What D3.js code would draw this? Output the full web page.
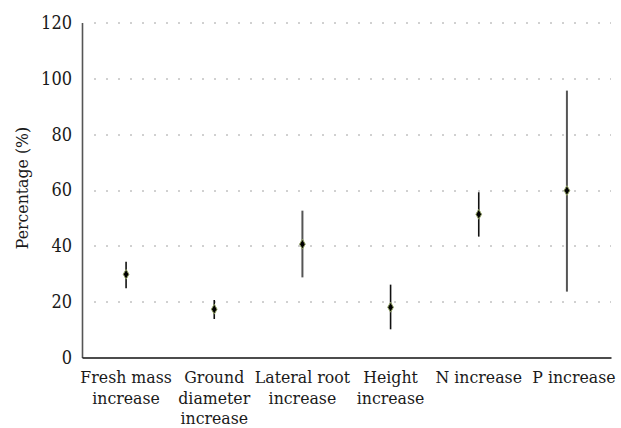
<!DOCTYPE html>
<html>
<head>
<meta charset="utf-8">
<script src="https://cdn.jsdelivr.net/npm/d3@7"></script>
<style>
  body { margin: 0; background: #fff; }
</style>
</head>
<body>
<svg id="chart" width="621" height="428"></svg>
<script>
// data
var categories = ["Fresh mass|increase", "Ground|diameter|increase", "Lateral root|increase",
                  "Height|increase", "N increase", "P increase"];
var means = [29.8, 17.3, 40.6, 18.0, 51.3, 59.8];
var lower = [24.8, 13.8, 28.7, 10.1, 43.3, 23.6];
var upper = [34.3, 20.6, 52.6, 26.1, 59.2, 95.6];
var yTicks = [0, 20, 40, 60, 80, 100, 120];

var serif = "'DejaVu Serif Condensed', 'DejaVu Serif', serif";

var svg = d3.select("#chart"),
    margin = {top: 22.5, right: 10, bottom: 70.5, left: 82},
    width = +svg.attr("width") - margin.left - margin.right,
    height = +svg.attr("height") - margin.top - margin.bottom,
    g = svg.append("g").attr("transform", "translate(" + margin.left + "," + margin.top + ")");

var x = d3.scaleBand().domain(categories).range([0, width]).padding(0);
var y = d3.scaleLinear().domain([0, 120]).range([height, 0]);

var data = categories.map(function(c, i) {
    return {cat: c, mean: means[i], lo: lower[i], hi: upper[i]};
});

// dotted grid
g.selectAll(".grid")
    .data(yTicks.filter(function(d) { return d > 0; }))
    .enter().append("line")
    .attr("class", "grid")
    .attr("x1", 12.5).attr("x2", width)
    .attr("y1", function(d) { return Math.round(y(d)) + 0.5; })
    .attr("y2", function(d) { return Math.round(y(d)) + 0.5; })
    .attr("stroke", "#444")
    .attr("stroke-width", 1)
    .attr("stroke-dasharray", "1,11");

// y axis
var yAxis = d3.axisLeft(y).tickValues(yTicks).tickSize(0).tickPadding(10);
var ya = g.append("g").call(yAxis).attr("font-family", serif).attr("font-size", 18);
ya.select(".domain").attr("stroke", "#555").attr("stroke-width", 1.6);
ya.selectAll("text").attr("fill", "#1a1a1a").attr("dy", "0.33em");

// x axis
var xAxis = d3.axisBottom(x).tickSize(0).tickFormat("");
var xa = g.append("g").attr("transform", "translate(0," + height + ")").call(xAxis);
xa.select(".domain").attr("stroke", "#111").attr("stroke-width", 1.6);

// category labels (multi-line); the last one sits a little right, as in the original
var labels = g.append("g").selectAll(".xlab")
    .data(categories)
    .enter().append("text")
    .attr("class", "xlab")
    .attr("text-anchor", "middle")
    .attr("font-family", serif)
    .attr("font-size", 17.5)
    .attr("fill", "#1a1a1a")
    .attr("transform", function(d, i) {
        var nudge = i === categories.length - 1 ? 7 : 0;
        return "translate(" + (x(d) + x.bandwidth() / 2 + nudge) + "," + (height + 25.5) + ")";
    });
labels.selectAll("tspan")
    .data(function(d) { return d.split("|"); })
    .enter().append("tspan")
    .attr("x", 0)
    .attr("dy", function(d, i) { return i === 0 ? 0 : 20.5; })
    .text(function(d) { return d; });

// y label
svg.append("text")
    .attr("transform", "translate(28," + 188 + ") rotate(-90)")
    .attr("text-anchor", "middle")
    .attr("font-family", serif)
    .attr("font-size", 17.5)
    .attr("fill", "#1a1a1a")
    .text("Percentage (%)");

// error bars
var grayBars = ["Lateral root|increase", "P increase"];
g.selectAll(".err")
    .data(data)
    .enter().append("line")
    .attr("class", "err")
    .attr("x1", function(d) { return x(d.cat) + x.bandwidth() / 2; })
    .attr("x2", function(d) { return x(d.cat) + x.bandwidth() / 2; })
    .attr("y1", function(d) { return y(d.hi); })
    .attr("y2", function(d) { return y(d.lo); })
    .attr("stroke", function(d) { return grayBars.indexOf(d.cat) >= 0 ? "#555" : "#111"; })
    .attr("stroke-width", function(d) { return grayBars.indexOf(d.cat) >= 0 ? 2 : 1.6; });

// mean markers
g.selectAll(".pt")
    .data(data)
    .enter().append("path")
    .attr("class", "pt")
    .attr("d", d3.symbol().type(d3.symbolDiamond).size(28))
    .attr("transform", function(d) { return "translate(" + (x(d.cat) + x.bandwidth() / 2) + "," + y(d.mean) + ")"; })
    .attr("fill", "#000")
    .attr("stroke", "#8f9e63")
    .attr("stroke-width", 1);
</script>
</body>
</html>
